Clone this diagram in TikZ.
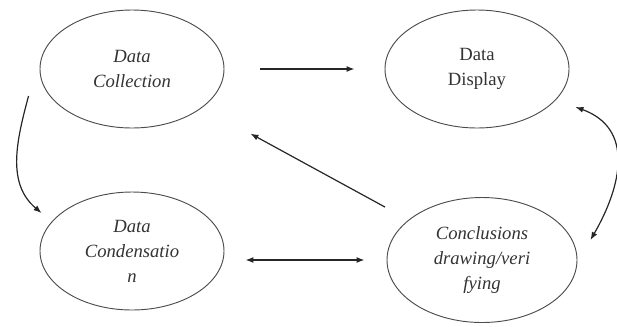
\documentclass[tikz,border=0pt]{standalone}
\usepackage{fontspec}
\setmainfont{Liberation Serif}
\usetikzlibrary{shapes.geometric, arrows.meta}
\begin{document}
\begin{tikzpicture}[x=0.75pt, y=0.75pt, >={Latex[length=6pt, width=4.5pt]},
  stage/.style={ellipse, draw=black!70, line width=0.7pt, minimum width=138pt, minimum height=88.5pt,
    align=center, inner sep=0pt, text=black!80, font=\fontsize{14}{18.75}\selectfont},
  itext/.style={font=\fontsize{14}{18.75}\selectfont\itshape},
  flow/.style={line width=0.9pt, draw=black!85}]
  \useasboundingbox (0,0) rectangle (617,-326);
  \node[stage, itext] (col) at (132,-69) {Data\\Collection};
  \node[stage] (dis) at (477,-69) {Data\\Display};
  \node[stage, itext] (cnd) at (132,-251) {Data\\Condensatio\\n};
  \node[stage, itext, minimum width=142.5pt, minimum height=93.75pt] (con) at (482,-260) {Conclusions\\drawing/veri\\fying};
  \draw[flow, ->, shorten <=27pt, shorten >=22.5pt] (col.east) -- (dis.west);
  \draw[flow, ->, shorten <=20pt, shorten >=41pt] (con) -- (col);
  \draw[flow, <->, shorten <=15.75pt, shorten >=16.5pt] (cnd.east |- con.west) -- (con.west);
  \draw[flow, ->] ([shift={(-11,-27)}]col.west) to[out=255, in=140] ([shift={(2,38)}]cnd.west);
  \draw[flow, <->] ([shift={(6,-38)}]dis.east) to[out=-20, in=60, looseness=1.2] ([shift={(13,20)}]con.east);
\end{tikzpicture}
\end{document}
